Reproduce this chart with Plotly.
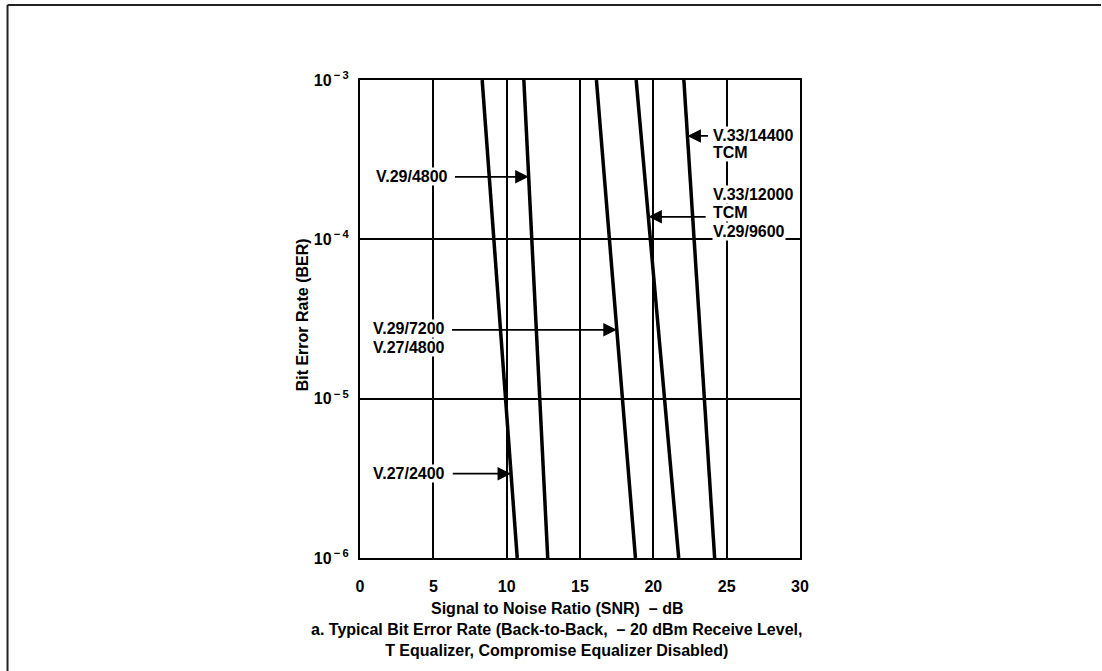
import numpy as np
import plotly.graph_objects as go

# Bit error rate vs. SNR, one straight line per modem mode on a log BER scale.
# Each curve is given by its SNR (dB) at BER = 1e-3 and at BER = 1e-6.
ber_ends = [1e-3, 1e-6]
snr_v27_2400 = [8.33, 10.72]
snr_v29_4800 = [11.17, 12.80]
snr_v29_7200 = [16.12, 18.78]
snr_v33_12000 = [18.83, 21.73]
snr_v33_14400 = [22.08, 24.18]

curves = [snr_v27_2400, snr_v29_4800, snr_v29_7200, snr_v33_12000, snr_v33_14400]

x_ticks = [0, 5, 10, 15, 20, 25, 30]
y_tickvals = [1e-6, 1e-5, 1e-4, 1e-3]
y_ticktext = ["10<sup>\u2009\u2212\u20096</sup>", "10<sup>\u2009\u2212\u20095</sup>",
              "10<sup>\u2009\u2212\u20094</sup>", "10<sup>\u2009\u2212\u20093</sup>"]

FONT = "Liberation Sans, Arial, Helvetica, sans-serif"
TEXT_SIZE = 16

fig = go.Figure()
for snr in curves:
    fig.add_trace(go.Scatter(x=snr, y=ber_ends, mode="lines",
                             line=dict(color="black", width=3.5),
                             showlegend=False, hoverinfo="skip"))


def snr_at(snr, log_ber):
    """SNR of a curve at a given log10(BER), along its straight line."""
    return float(np.interp(log_ber, [-6, -3], [snr[1], snr[0]]))


# Curve label lines: (text, left x in dB, log10 BER of the line)
label_lines = [
    ("V.29/4800", 1.0, -3.608),
    ("V.29/7200", 0.8, -4.562),
    ("V.27/4800", 0.8, -4.681),
    ("V.27/2400", 0.8, -5.471),
    ("V.33/14400", 24.02, -3.351),
    ("TCM", 24.02, -3.458),
    ("V.33/12000", 24.02, -3.721),
    ("TCM", 24.02, -3.834),
    ("V.29/9600", 24.02, -3.953),
]
for text, x, y in label_lines:
    fig.add_annotation(x=x, y=y, xref="x", yref="y", text=text, showarrow=False,
                       xanchor="left", yanchor="middle", align="left",
                       bgcolor="white", borderpad=0,
                       font=dict(family=FONT, size=TEXT_SIZE, color="black", weight="bold"))

# Leader arrows: (curve, arrow log10 BER, tail x in dB); head sits on the curve
arrows = [
    (snr_v29_4800, -3.608, 6.37),
    (snr_v29_7200, -4.568, 6.17),
    (snr_v27_2400, -5.471, 6.22),
    (snr_v33_14400, -3.351, 23.83),
    (snr_v33_12000, -3.859, 23.67),
]
for snr, y, tail_x in arrows:
    fig.add_annotation(x=snr_at(snr, y), y=y, ax=tail_x, ay=y,
                       xref="x", yref="y", axref="x", ayref="y",
                       text="", showarrow=True, arrowhead=2, arrowsize=1.5,
                       arrowwidth=1.8, arrowcolor="black", standoff=0)

# Axis titles and caption
fig.add_annotation(x=0.4466, y=-0.106, xref="paper", yref="paper",
                   text="Signal to Noise Ratio (SNR)  \u2013 dB", showarrow=False,
                   xanchor="center", yanchor="middle",
                   font=dict(family=FONT, size=TEXT_SIZE, color="black", weight="bold"))
fig.add_annotation(x=0.4466, y=-0.1716, xref="paper", yref="paper",
                   text="a. Typical Bit Error Rate (Back-to-Back,  \u2013 20 dBm Receive Level,"
                        "<br>T Equalizer, Compromise Equalizer Disabled)",
                   showarrow=False, xanchor="center", yanchor="middle", align="center",
                   font=dict(family=FONT, size=TEXT_SIZE, color="black", weight="bold"))
fig.add_annotation(x=-0.1307, y=0.5087, xref="paper", yref="paper",
                   text="Bit Error Rate (BER)", showarrow=False, textangle=-90,
                   xanchor="center", yanchor="middle",
                   font=dict(family=FONT, size=TEXT_SIZE, color="black", weight="bold"))

# Page frame along the top and left edges
fig.add_shape(type="line", xref="paper", yref="paper",
              x0=-0.8011, y0=1.1568, x1=1.684, y1=1.1568,
              line=dict(color="#222222", width=2))
fig.add_shape(type="line", xref="paper", yref="paper",
              x0=-0.8011, y0=1.1568, x1=-0.8011, y1=-0.25,
              line=dict(color="#222222", width=2))

fig.update_xaxes(range=[0, 30], tickvals=x_ticks, ticks="", ticklabelstandoff=13,
                 showgrid=True, gridcolor="black", gridwidth=1.5, zeroline=False,
                 showline=True, linecolor="black", linewidth=2, mirror=True,
                 automargin=False,
                 tickfont=dict(family=FONT, size=TEXT_SIZE, color="black", weight="bold"))
fig.update_yaxes(type="log", range=[-6, -3], tickmode="array",
                 tickvals=y_tickvals, ticktext=y_ticktext, ticks="",
                 ticklabelstandoff=6,
                 showgrid=True, gridcolor="black", gridwidth=1.5, zeroline=False,
                 showline=True, linecolor="black", linewidth=2, mirror=True,
                 automargin=False,
                 tickfont=dict(family=FONT, size=TEXT_SIZE, color="black", weight="bold"))

fig.update_layout(width=1102, height=671,
                  margin=dict(l=360, r=302, t=80, b=113),
                  paper_bgcolor="white", plot_bgcolor="white",
                  showlegend=False)

fig.write_html("out.html")
